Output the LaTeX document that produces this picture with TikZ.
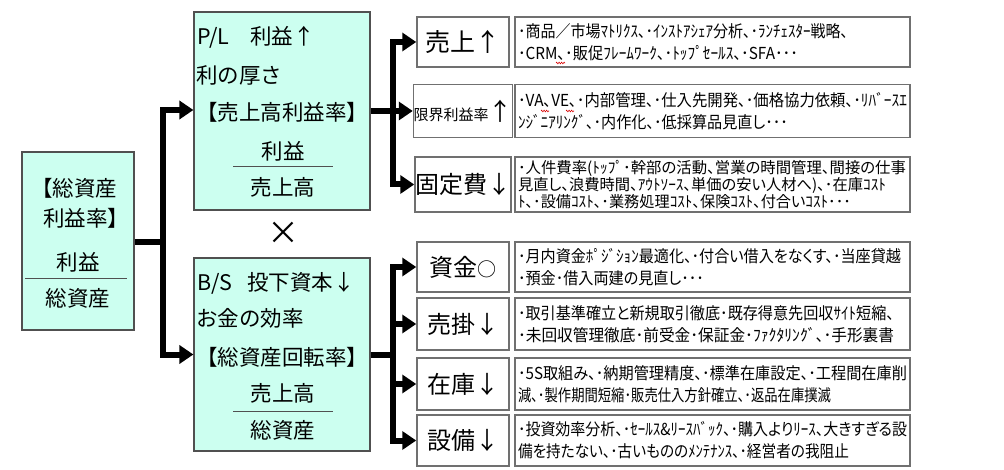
\documentclass[tikz,border=0pt]{standalone}
\usepackage{fontspec}
\usepackage{graphicx}
\setmainfont{Noto Sans CJK JP}
\newfontfamily\descfont[RawFeature=+palt]{Noto Sans CJK JP}
\usetikzlibrary{arrows.meta,decorations.pathmorphing}
\definecolor{mint}{HTML}{CCFFF0}
\definecolor{bord}{HTML}{505050}
\definecolor{sbord}{HTML}{707070}
\newcommand\fl[2]{\resizebox{#1pt}{\height}{#2}}
\begin{document}
\begin{tikzpicture}[x=1pt,y=-1pt,
 mainbox/.style={draw=bord, line width=1.2pt, fill=mint, inner sep=0pt},
 smallbox/.style={draw=sbord, line width=1.5pt, fill=white, minimum width=92pt, inner sep=0pt},
 descbox/.style={draw=sbord, line width=1.5pt, fill=white, text width=389pt, inner xsep=3pt, inner ysep=0pt, align=left, font=\descfont\fontsize{16.5}{22}\selectfont},
 txt/.style={font=\fontsize{21.5}{26}\selectfont, inner sep=0pt},
 ltxt/.style={txt, anchor=west},
 lbl/.style={font=\fontsize{24}{28}\selectfont, inner sep=0pt},
 rule/.style={draw=bord, line width=0.8pt},
 conn/.style={line width=6pt},
 arr/.style={line width=6pt, -{Triangle[length=14pt,width=18pt]}},
 squig/.style={draw=red!85!black, line width=0.6pt, decorate, decoration={zigzag, segment length=2.5pt, amplitude=0.8pt}},
]
\useasboundingbox (0,0) rectangle (1004,470);
% left box
\node[mainbox, minimum width=112pt, minimum height=178pt] (A) at (78,241) {};
\node[txt] (a1) at (74,188) {【総資産};
\node[txt] (a2) at (86,218) {利益率】};
\node[txt] (a3) at (78,262) {利益};
\draw[rule] (25,278) -- (127,278);
\node[txt] (a4) at (78,298) {総資産};
% P/L box
\node[mainbox, minimum width=176pt, minimum height=198pt] (PL) at (282,111) {};
\node[ltxt] (p1) at (197,37) {\makebox[53pt][l]{P/L}利益↑};
\node[ltxt] (p2) at (196,75) {利の厚さ};
\node[ltxt] (p3) at (196,112) {【売上高利益率】};
\node[txt] (p4) at (283,151) {利益};
\draw[rule] (233,166) -- (333,166);
\node[txt] (p5) at (283,187) {売上高};
% times
\node[font=\fontsize{32}{32}\selectfont, inner sep=0pt] (x) at (283,233) {×};
% B/S box
\node[mainbox, minimum width=176pt, minimum height=193pt] (BS) at (282,354.5) {};
\node[ltxt] (b1) at (197,283) {\makebox[50pt][l]{B/S}投下資本↓};
\node[ltxt] (b2) at (196,318) {お金の効率};
\node[ltxt] (b3) at (196,357) {【総資産回転率】};
\node[txt] (b4) at (283,393) {売上高};
\draw[rule] (233,411) -- (333,411);
\node[txt] (b5) at (283,430) {総資産};
% small boxes
\node[smallbox, minimum height=50pt, lbl, font=\fontsize{25}{28}\selectfont] (s1) at (463,42) {売上↑};
\node[smallbox, minimum height=53pt] (s2) at (463,111) {\fontsize{15}{18}\selectfont 限界利益率\fontsize{24}{24}\selectfont↑};
\node[smallbox, minimum height=55pt, lbl] (s3) at (463,184.5) {固定費↓};
\node[smallbox, minimum height=50pt, lbl] (s4) at (463,267) {資金{\fontsize{19}{19}\selectfont ○}};
\node[smallbox, minimum height=52pt, lbl] (s5) at (463,324) {売掛↓};
\node[smallbox, minimum height=52pt, lbl] (s6) at (463,384) {在庫↓};
\node[smallbox, minimum height=51pt, lbl] (s7) at (463,440.5) {設備↓};
% description boxes
\node[descbox, minimum height=50pt] (d1) at (712.5,42) {\fl{330}{･商品／市場ﾏﾄﾘｸｽ、･ｲﾝｽﾄｱｼｪｱ分析、･ﾗﾝﾁｪｽﾀｰ戦略、}\\\fl{280}{･CRM､･販促ﾌﾚｰﾑﾜｰｸ、･ﾄｯﾌﾟｾｰﾙｽ、･SFA･･･}};
\node[descbox, minimum height=53pt] (d2) at (712.5,111) {\fl{389}{･VA､VE､･内部管理、･仕入先開発、･価格協力依頼、･ﾘﾊﾞｰｽｴ}\\\fl{270}{ﾝｼﾞﾆｱﾘﾝｸﾞ、･内作化、･低採算品見直し･･･}};
\node[descbox, minimum height=55pt, font=\descfont\fontsize{15.5}{17}\selectfont] (d3) at (712.5,184.5) {\fl{388}{･人件費率(ﾄｯﾌﾟ･幹部の活動、営業の時間管理、間接の仕事}\\\fl{368}{見直し、浪費時間、ｱｳﾄｿｰｽ、単価の安い人材へ)、･在庫ｺｽﾄ}\\\fl{333}{ﾄ、･設備ｺｽﾄ、･業務処理ｺｽﾄ、保険ｺｽﾄ、付合いｺｽﾄ･･･}};
\node[descbox, minimum height=50pt] (d4) at (712.5,267) {\fl{383}{･月内資金ﾎﾟｼﾞｼｮﾝ最適化、･付合い借入をなくす、･当座貸越}\\\fl{186}{･預金･借入両建の見直し･･･}};
\node[descbox, minimum height=52pt] (d5) at (712.5,324) {\fl{376}{･取引基準確立と新規取引徹底･既存得意先回収ｻｲﾄ短縮、}\\\fl{376}{･未回収管理徹底･前受金･保証金･ﾌｧｸﾀﾘﾝｸﾞ、･手形裏書}};
\node[descbox, minimum height=52pt] (d6) at (712.5,384) {\fl{389}{･5S取組み、･納期管理精度、･標準在庫設定、･工程間在庫削}\\\fl{313}{減、･製作期間短縮･販売仕入方針確立、･返品在庫撲滅}};
\node[descbox, minimum height=51pt] (d7) at (712.5,440.5) {\fl{389}{･投資効率分析、･ｾｰﾙｽ\&ﾘｰｽﾊﾞｯｸ、･購入よりﾘｰｽ、大きすぎる設}\\\fl{331}{備を持たない、･古いもののﾒﾝﾃﾅﾝｽ、･経営者の我阻止}};
% spell-check marks
\draw[squig] (556,63) -- (565,63);
\draw[squig] (541,111) -- (549,111);
\draw[squig] (566,111) -- (574,111);
% connectors
\coordinate (j1) at (163,242);
\coordinate (j2) at (393,111);
\coordinate (j3) at (393,354.5);
\draw[conn] (A.east |- j1) -- (j1);
\draw[arr] (j1) |- (PL.west |- 0,110);
\draw[arr] (j1) |- (BS.west);
\draw[conn] (PL.east |- j2) -- (j2);
\draw[arr] (j2) |- (s1.west);
\draw[arr] (j2) -- (s2.west);
\draw[arr] (j2) |- (s3.west);
\draw[conn] (BS.east |- j3) -- (j3);
\draw[arr] (j3) |- (s4.west);
\draw[arr] (j3) |- (s5.west);
\draw[arr] (j3) |- (s6.west);
\draw[arr] (j3) |- (s7.west);
\end{tikzpicture}
\end{document}
